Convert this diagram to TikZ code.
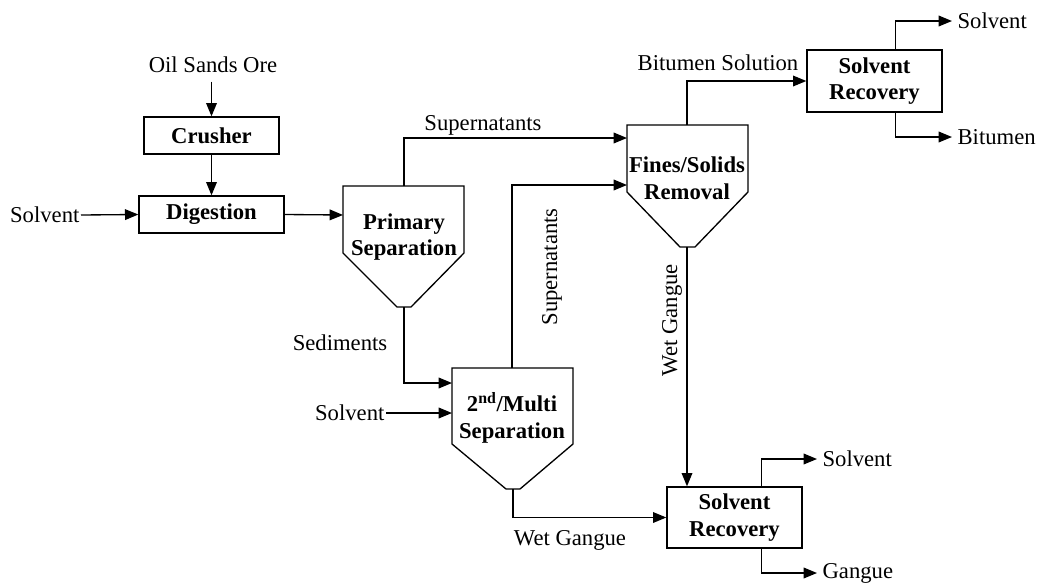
\documentclass[tikz,border=0pt]{standalone}
\usepackage{fontspec}
\setmainfont{Liberation Serif}
\usetikzlibrary{arrows.meta}
\tikzset{
  flow/.style={line width=1pt,-{Triangle[length=10pt,width=8pt]}},
  line/.style={line width=1pt},
  unitbox/.style={draw,line width=1pt,inner sep=0pt,font=\fontsize{17}{20}\selectfont\bfseries,align=center},
  lbl/.style={inner sep=1pt,font=\fontsize{17}{20}\selectfont},
  outlbl/.style={lbl,anchor=west,inner xsep=4pt},
  btxt/.style={inner sep=0pt,font=\fontsize{17}{20}\selectfont\bfseries,align=center}
}
\begin{document}
\begin{tikzpicture}[x=0.75pt,y=-0.75pt,font=\fontsize{17}{20}\selectfont]
\useasboundingbox (0,0) rectangle (1039,582);
% boxes
\node[unitbox,minimum width=135*0.75pt,minimum height=37*0.75pt] (crusher) at (211.5,135.5) {Crusher};
\node[unitbox,minimum width=145*0.75pt,minimum height=37*0.75pt] (digestion) at (211.5,214.5) {Digestion};
\node[unitbox,minimum width=135*0.75pt,minimum height=62*0.75pt] (srtop) at (874.5,81) {Solvent\\Recovery};
\node[unitbox,minimum width=135*0.75pt,minimum height=61*0.75pt] (srbot) at (734.5,517.5) {Solvent\\Recovery};
% hoppers
\draw[line] (343,186) -- (464,186) -- (464,253) -- (411,307) -- (397,307) -- (343,253) -- cycle;
\node[btxt] (prim) at (404,237) {Primary\\Separation};
\draw[line] (452,368) -- (573,368) -- (573,444) -- (520,489) -- (506,489) -- (452,444) -- cycle;
\node[btxt] (sec) at (512,418) {2\textsuperscript{nd}/Multi\\Separation};
\draw[line] (627,125) -- (748,125) -- (748,192) -- (695,247) -- (680,247) -- (627,192) -- cycle;
\node[btxt] (fines) at (687,178) {Fines/Solids\\Removal};
% hopper ports
\coordinate (prim-w) at (343,215);
\coordinate (prim-t) at (404,186);
\coordinate (prim-b) at (404,307);
\coordinate (sec-w1) at (452,383);
\coordinate (sec-w2) at (452,413);
\coordinate (sec-t) at (512,368);
\coordinate (sec-b) at (513,489);
\coordinate (fines-w1) at (627,138);
\coordinate (fines-w2) at (627,185);
\coordinate (fines-t) at (687,125);
\coordinate (fines-b) at (687,247);
% labels
\node[lbl] (ore) at (213,65) {Oil Sands Ore};
\node[lbl,anchor=east] (solv1) at (81,215) {Solvent};
\node[lbl,anchor=east] (solv2) at (386,413) {Solvent};
\node[lbl] (supn1) at (483,125) {Supernatants};
\node[lbl,rotate=90] (supn2) at (552,267) {Supernatants};
\node[lbl] (sed) at (340,343) {Sediments};
\node[lbl] (wg1) at (570,540) {Wet Gangue};
\node[lbl,rotate=90] (wg2) at (672,320) {Wet Gangue};
\node[lbl] (bsol) at (718,63) {Bitumen Solution};
\node[outlbl] (solvout1) at (952,21) {Solvent};
\node[outlbl] (bit) at (952,137) {Bitumen};
\node[outlbl] (solvout2) at (817,459) {Solvent};
\node[outlbl] (gangue) at (817,573) {Gangue};
% connectors
\draw[flow] (crusher.north |- ore.south) ++(0,7) -- (crusher.north);
\draw[flow] (crusher.south) -- (digestion.north);
\draw[flow] (solv1.east) -- (digestion.west);
\draw[flow] (digestion.east) -- (prim-w);
\draw[flow] (prim-t) |- (fines-w1);
\draw[flow] (prim-b) |- (sec-w1);
\draw[flow] (solv2.east) -- (sec-w2);
\draw[flow] (sec-t) |- (fines-w2);
\draw[flow] (sec-b) |- (srbot.west);
\draw[flow] (fines-b) -- (srbot.north -| fines-b);
\draw[flow] (fines-t) |- (srtop.west);
\draw[flow] ([xshift=21*0.75pt]srtop.north) |- (solvout1.west);
\draw[flow] ([xshift=21*0.75pt]srtop.south) |- (bit.west);
\draw[flow] ([xshift=27*0.75pt]srbot.north) |- (solvout2.west);
\draw[flow] ([xshift=27*0.75pt]srbot.south) |- (gangue.west);
\end{tikzpicture}
\end{document}
